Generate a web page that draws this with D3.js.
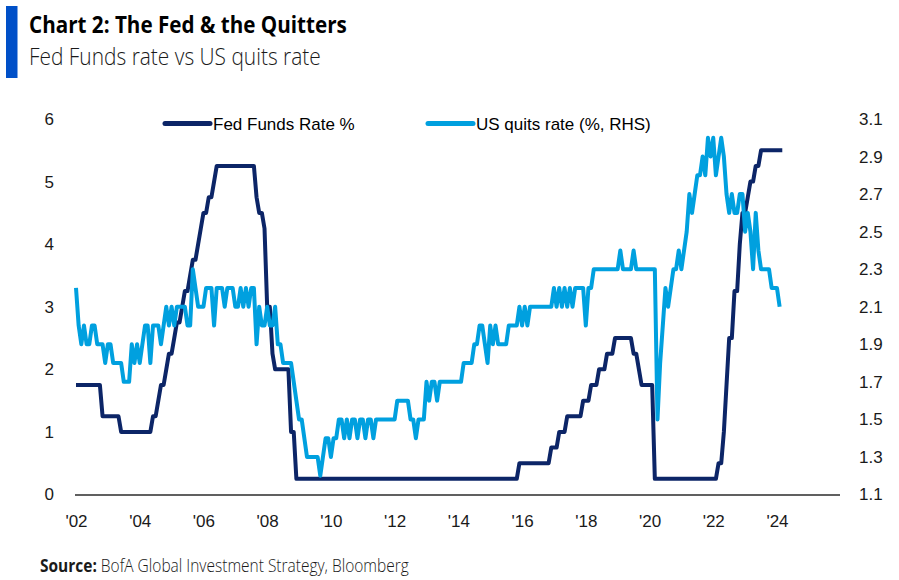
<!DOCTYPE html>
<html>
<head>
<meta charset="utf-8">
<script src="https://cdn.jsdelivr.net/npm/d3@7"></script>
<style>
  html, body { margin: 0; padding: 0; background: #fff; }
  svg { display: block; }
</style>
</head>
<body>
<svg id="chart" width="899" height="580"></svg>
<script>
// ---------------- DATA ----------------
const startYear = 2002; // monthly series, first point = Jan 2002

// Fed Funds Rate % (upper bound, month-end), Jan 2002 – Mar 2024
const fedFunds = [
  1.75,1.75,1.75,1.75,1.75,1.75,1.75,1.75,1.75,1.75,1.25,1.25, // 2002
  1.25,1.25,1.25,1.25,1.25,1.0,1.0,1.0,1.0,1.0,1.0,1.0,        // 2003
  1.0,1.0,1.0,1.0,1.0,1.25,1.25,1.5,1.75,1.75,2.0,2.25,        // 2004
  2.25,2.5,2.75,2.75,3.0,3.25,3.25,3.5,3.75,3.75,4.0,4.25,     // 2005
  4.5,4.5,4.75,4.75,5.0,5.25,5.25,5.25,5.25,5.25,5.25,5.25,    // 2006
  5.25,5.25,5.25,5.25,5.25,5.25,5.25,5.25,4.75,4.5,4.5,4.25,   // 2007
  3.0,3.0,2.25,2.0,2.0,2.0,2.0,2.0,2.0,1.0,1.0,0.25,           // 2008
  0.25,0.25,0.25,0.25,0.25,0.25,0.25,0.25,0.25,0.25,0.25,0.25, // 2009
  0.25,0.25,0.25,0.25,0.25,0.25,0.25,0.25,0.25,0.25,0.25,0.25, // 2010
  0.25,0.25,0.25,0.25,0.25,0.25,0.25,0.25,0.25,0.25,0.25,0.25, // 2011
  0.25,0.25,0.25,0.25,0.25,0.25,0.25,0.25,0.25,0.25,0.25,0.25, // 2012
  0.25,0.25,0.25,0.25,0.25,0.25,0.25,0.25,0.25,0.25,0.25,0.25, // 2013
  0.25,0.25,0.25,0.25,0.25,0.25,0.25,0.25,0.25,0.25,0.25,0.25, // 2014
  0.25,0.25,0.25,0.25,0.25,0.25,0.25,0.25,0.25,0.25,0.25,0.5,  // 2015
  0.5,0.5,0.5,0.5,0.5,0.5,0.5,0.5,0.5,0.5,0.5,0.75,            // 2016
  0.75,0.75,1.0,1.0,1.0,1.25,1.25,1.25,1.25,1.25,1.25,1.5,     // 2017
  1.5,1.5,1.75,1.75,1.75,2.0,2.0,2.0,2.25,2.25,2.25,2.5,       // 2018
  2.5,2.5,2.5,2.5,2.5,2.5,2.25,2.25,2.0,1.75,1.75,1.75,        // 2019
  1.75,1.75,0.25,0.25,0.25,0.25,0.25,0.25,0.25,0.25,0.25,0.25, // 2020
  0.25,0.25,0.25,0.25,0.25,0.25,0.25,0.25,0.25,0.25,0.25,0.25, // 2021
  0.25,0.25,0.5,0.5,1.0,1.75,2.5,2.5,3.25,3.25,4.0,4.5,        // 2022
  4.5,4.75,5.0,5.0,5.25,5.25,5.5,5.5,5.5,5.5,5.5,5.5,          // 2023
  5.5,5.5,5.5                                                  // 2024
];

// US quits rate (%, RHS), Jan 2002 – Feb 2024
const quitsRate = [
  2.2,2.0,1.9,2.0,1.9,1.9,2.0,2.0,1.9,1.9,1.9,1.8, // 2002
  1.9,1.9,1.8,1.8,1.8,1.8,1.7,1.7,1.7,1.9,1.8,1.9, // 2003
  1.8,1.9,2.0,2.0,1.8,2.0,2.0,2.0,1.9,2.0,2.1,2.0, // 2004
  2.1,2.0,2.1,2.1,2.1,2.1,2.0,2.0,2.3,2.2,2.1,2.1, // 2005
  2.1,2.2,2.2,2.2,2.0,2.2,2.2,2.2,2.1,2.2,2.2,2.2, // 2006
  2.1,2.1,2.2,2.1,2.2,2.1,2.2,2.2,1.9,2.1,2.0,2.0, // 2007
  2.1,2.0,2.0,2.1,1.9,1.9,1.8,1.8,1.8,1.8,1.7,1.6, // 2008
  1.5,1.5,1.4,1.3,1.3,1.3,1.3,1.3,1.2,1.3,1.4,1.4, // 2009
  1.3,1.4,1.4,1.5,1.5,1.4,1.5,1.4,1.5,1.5,1.4,1.5, // 2010
  1.5,1.4,1.5,1.5,1.4,1.5,1.5,1.5,1.5,1.5,1.5,1.5, // 2011
  1.5,1.6,1.6,1.6,1.6,1.6,1.5,1.5,1.4,1.5,1.5,1.5, // 2012
  1.7,1.6,1.7,1.7,1.6,1.7,1.7,1.7,1.7,1.7,1.7,1.7, // 2013
  1.7,1.7,1.8,1.8,1.8,1.8,1.9,1.9,2.0,2.0,1.9,1.8, // 2014
  2.0,1.9,2.0,1.9,1.9,1.9,1.9,2.0,2.0,2.0,2.0,2.1, // 2015
  2.0,2.1,2.0,2.1,2.1,2.1,2.1,2.1,2.1,2.1,2.1,2.1, // 2016
  2.2,2.1,2.2,2.1,2.2,2.1,2.2,2.1,2.2,2.2,2.2,2.2, // 2017
  2.0,2.2,2.2,2.3,2.3,2.3,2.3,2.3,2.3,2.3,2.3,2.3, // 2018
  2.3,2.4,2.3,2.3,2.3,2.3,2.4,2.3,2.3,2.3,2.3,2.3, // 2019
  2.3,2.3,2.3,1.5,1.8,2.0,2.2,2.1,2.2,2.3,2.3,2.4, // 2020
  2.3,2.4,2.5,2.7,2.6,2.7,2.8,2.8,2.9,2.8,3.0,2.9, // 2021
  3.0,2.8,2.9,3.0,2.9,2.7,2.6,2.7,2.6,2.6,2.7,2.7, // 2022
  2.5,2.6,2.5,2.3,2.6,2.4,2.3,2.3,2.3,2.3,2.2,2.2, // 2023
  2.2,2.1                                          // 2024
];

const leftTicks  = [0, 1, 2, 3, 4, 5, 6];
const rightTicks = [1.1, 1.3, 1.5, 1.7, 1.9, 2.1, 2.3, 2.5, 2.7, 2.9, 3.1];
const xTickYears  = [2002, 2004, 2006, 2008, 2010, 2012, 2014, 2016, 2018, 2020, 2022, 2024];
const xTickLabels = ["'02", "'04", "'06", "'08", "'10", "'12", "'14", "'16", "'18", "'20", "'22", "'24"];
const seriesNames = ["Fed Funds Rate %", "US quits rate (%, RHS)"];

const titleText    = "Chart 2: The Fed & the Quitters";
const subtitleText = "Fed Funds rate vs US quits rate";
const sourceLabel  = "Source:";
const sourceText   = " BofA Global Investment Strategy, Bloomberg";

// ---------------- STYLE ----------------
const navy = "#0c2567";
const cyan = "#00a0df";
const axisFont = "'Liberation Sans', Arial, sans-serif";
const titleFont = "'Open Sans', 'Noto Sans', sans-serif";

const svg = d3.select("#chart");

// scales
const x  = d3.scaleLinear().domain([2002, 2026]).range([76, 840.7]);
const yL = d3.scaleLinear().domain([0, 6]).range([494.5, 119]);
const yR = d3.scaleLinear().domain([1.1, 3.1]).range([494.5, 119]);

// ---------------- HEADER ----------------
svg.append("rect").attr("x", 6).attr("y", 6).attr("width", 11.5).attr("height", 72)
  .attr("fill", "#0050c8");

function fitText(sel, targetWidth) {
  const w = sel.node().getComputedTextLength();
  return w > 0 ? targetWidth / w : 1;
}

const gTitle = svg.append("g");
const tTitle = gTitle.append("text").text(titleText)
  .attr("font-family", titleFont).attr("font-weight", 700).attr("font-size", 24)
  .attr("fill", "#000");
gTitle.attr("transform", `translate(29,33) scale(${fitText(tTitle, 318)},1)`);

const gSub = svg.append("g");
const tSub = gSub.append("text").text(subtitleText)
  .attr("font-family", titleFont).attr("font-weight", 300).attr("font-size", 23)
  .attr("fill", "#1a1a1a");
gSub.attr("transform", `translate(29,65) scale(${fitText(tSub, 292)},1)`);

const gSrc = svg.append("g");
const tSrc = gSrc.append("text")
  .attr("font-family", titleFont).attr("font-size", 18).attr("fill", "#1a1a1a");
tSrc.append("tspan").attr("font-weight", 700).text(sourceLabel);
tSrc.append("tspan").attr("font-weight", 300).text(sourceText);
gSrc.attr("transform", `translate(40,572) scale(${fitText(tSrc, 369)},1)`);

// ---------------- AXES ----------------
const axL = svg.append("g").attr("transform", "translate(57,0)")
  .call(d3.axisLeft(yL).tickValues(leftTicks).tickSize(0).tickPadding(3).tickFormat(d3.format("d")));
const axR = svg.append("g").attr("transform", "translate(856,0)")
  .call(d3.axisRight(yR).tickValues(rightTicks).tickSize(0).tickPadding(3).tickFormat(d3.format(".1f")));
const axB = svg.append("g").attr("transform", "translate(0,495)")
  .call(d3.axisBottom(x).tickValues(xTickYears).tickSize(0).tickSizeOuter(0).tickPadding(20)
    .tickFormat((d, i) => xTickLabels[i]));

[axL, axR].forEach(a => a.select(".domain").remove());
axB.select(".domain").attr("stroke", "#2b2b2b").attr("stroke-width", 1.6)
  .attr("d", `M75,0H840`);
[axL, axR, axB].forEach(a => a.selectAll("text")
  .attr("font-family", axisFont).attr("font-size", 17).attr("fill", "#1a1a1a"));

// ---------------- LINES ----------------
const ffData = fedFunds.map((v, i) => ({ t: startYear + i / 12, v }));
const qrData = quitsRate.map((v, i) => ({ t: startYear + i / 12, v }));

svg.append("path").datum(ffData)
  .attr("fill", "none").attr("stroke", navy).attr("stroke-width", 4)
  .attr("stroke-linejoin", "round")
  .attr("d", d3.line().x(d => x(d.t)).y(d => yL(d.v)));

svg.append("path").datum(qrData)
  .attr("fill", "none").attr("stroke", cyan).attr("stroke-width", 4)
  .attr("stroke-linejoin", "round")
  .attr("d", d3.line().x(d => x(d.t)).y(d => yR(d.v)));

// ---------------- LEGEND ----------------
const legendItems = [
  { name: seriesNames[0], color: navy, x0: 165 },
  { name: seriesNames[1], color: cyan, x0: 428 }
];
const lg = svg.append("g");
legendItems.forEach(it => {
  lg.append("line").attr("x1", it.x0).attr("x2", it.x0 + 45)
    .attr("y1", 123.5).attr("y2", 123.5)
    .attr("stroke", it.color).attr("stroke-width", 5).attr("stroke-linecap", "round");
  lg.append("text").attr("x", it.x0 + 48).attr("y", 129.5)
    .attr("font-family", axisFont).attr("font-size", 17).attr("fill", "#000")
    .text(it.name);
});
</script>
</body>
</html>
